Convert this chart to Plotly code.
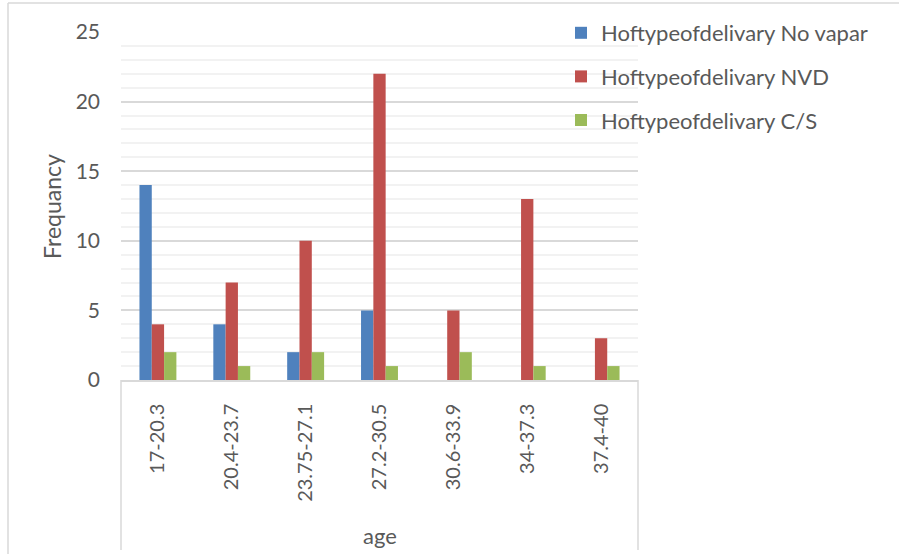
import plotly.graph_objects as go

# Age bands on the category axis
age_groups = ["17-20.3", "20.4-23.7", "23.75-27.1", "27.2-30.5", "30.6-33.9", "34-37.3", "37.4-40"]

# Frequency of each type of delivery per age band
no_vapar = [14, 4, 2, 5, 0, 0, 0]
nvd = [4, 7, 10, 22, 5, 13, 3]
cs = [2, 1, 2, 1, 2, 1, 1]

series_names = ["Hoftypeofdelivary No vapar", "Hoftypeofdelivary NVD", "Hoftypeofdelivary C/S"]
series_colors = ["#4F81BD", "#C0504D", "#9BBB59"]

FONT = "Lato"
TEXT = "#595959"
GRID = "#d9d9d9"

# Plot area in pixels
W, H = 899, 554
L, R, T, B = 121, 638, 32, 380

def px_x(x):
    return (x - L) / (R - L)

def px_y(y):
    return (B - y) / (B - T)

fig = go.Figure()
for i, (name, vals, col) in enumerate(zip(series_names, [no_vapar, nvd, cs], series_colors)):
    fig.add_trace(go.Bar(
        x=age_groups, y=vals, name=name, legendgroup=f"g{i}",
        marker=dict(color=col, line=dict(width=0)),
    ))

fig.update_layout(
    width=W, height=H,
    margin=dict(l=L, r=W - R, t=T, b=H - B, pad=0),
    paper_bgcolor="white", plot_bgcolor="white",
    barmode="group", bargap=0.5, bargroupgap=0,
    font=dict(family=FONT, color=TEXT, size=20),
    showlegend=True,
    legend=dict(
        x=px_x(561), y=px_y(12), xanchor="left", yanchor="top",
        xref="paper", yref="paper",
        font=dict(family=FONT, size=22, color=TEXT),
        tracegroupgap=12, bgcolor="rgba(0,0,0,0)",
        itemwidth=30,
    ),
    xaxis=dict(
        type="category", tickangle=-90, showgrid=False,
        showline=True, linecolor=GRID, linewidth=1.5,
        ticks="", ticklabelstandoff=14,
        tickfont=dict(family=FONT, size=20, color=TEXT),
    ),
    yaxis=dict(
        range=[0, 25], dtick=5, showgrid=True, gridcolor=GRID, gridwidth=1.5,
        minor=dict(dtick=1, showgrid=True, gridcolor="#f2f2f2", gridwidth=1.5),
        zeroline=False, showline=False, ticks="", ticklabelstandoff=20,
        tickfont=dict(family=FONT, size=21, color=TEXT),
    ),
)

# Outer chart frame (top and left edges)
fig.add_shape(type="line", xref="paper", yref="paper",
              x0=px_x(8), x1=px_x(W + 5), y0=px_y(3), y1=px_y(3),
              line=dict(color=GRID, width=1.5))
fig.add_shape(type="line", xref="paper", yref="paper",
              x0=px_x(8), x1=px_x(8), y0=px_y(3), y1=px_y(H + 5),
              line=dict(color=GRID, width=1.5))

# Category axis box sides
for xp in (L, R):
    fig.add_shape(type="line", xref="paper", yref="paper",
                  x0=px_x(xp), x1=px_x(xp), y0=0, y1=px_y(550),
                  line=dict(color=GRID, width=1.5))

# Axis titles
fig.add_annotation(text="Frequancy", xref="paper", yref="paper",
                   x=px_x(52), y=px_y(207), textangle=-90, showarrow=False,
                   xanchor="center", yanchor="middle",
                   font=dict(family=FONT, size=23, color=TEXT))
fig.add_annotation(text="age", xref="paper", yref="paper",
                   x=px_x(380), y=px_y(535), showarrow=False,
                   xanchor="center", yanchor="middle",
                   font=dict(family=FONT, size=22, color=TEXT))

fig.write_html("out.html")
